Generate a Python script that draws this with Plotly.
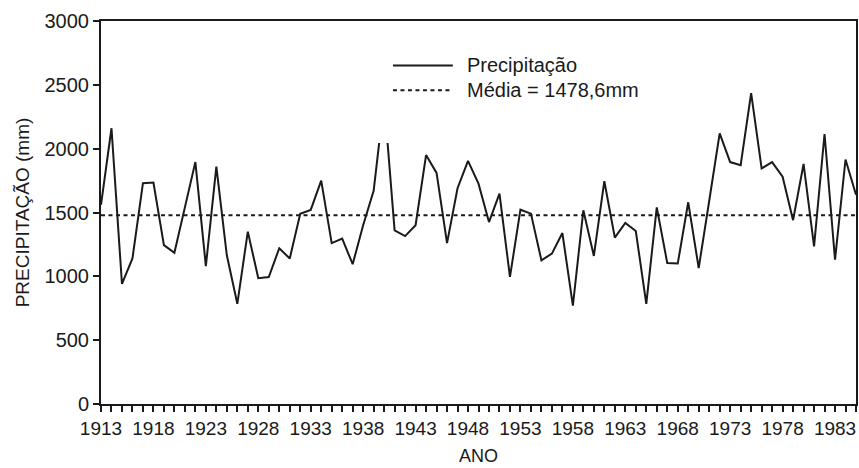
import plotly.graph_objects as go

years = list(range(1913, 1986))
precip_mm = [
    1560, 2160, 940, 1140, 1730, 1735, 1245, 1185, 1540, 1895,
    1080, 1860, 1165, 785, 1350, 985, 995, 1220, 1140, 1490,
    1520, 1750, 1260, 1295, 1095, 1400, 1670, 2380, 1360, 1315,
    1400, 1950, 1810, 1260, 1690, 1905, 1726, 1425, 1648, 995,
    1522, 1491, 1125, 1178, 1339, 770, 1517, 1160, 1745, 1303,
    1418, 1355, 785, 1540, 1105, 1100, 1580, 1065, 1590, 2120,
    1895, 1870, 2435, 1845, 1895, 1780, 1440, 1880, 1235, 2115,
    1130, 1915, 1640,
]
mean_mm = 1478.6
mean_label = "Média = 1478,6mm"
series_label = "Precipitação"

x_tick_years = [1913, 1918, 1923, 1928, 1933, 1938, 1943, 1948, 1953, 1958, 1963, 1968, 1973, 1978, 1983]
x_tick_labels = ["1913", "1918", "1923", "1928", "1933", "1938", "1943", "1948",
                 "1953", "1958", "1963", "1968", "1973", "1978", "1983"]
y_tick_vals = [0, 500, 1000, 1500, 2000, 2500, 3000]
y_tick_labels = ["0", "500", "1000", "1500", "2000", "2500", "3000"]

INK = "#1a1a1a"
FONT = "Arial, Liberation Sans, sans-serif"
DASH = "4px,3.5px"

fig = go.Figure()
fig.add_trace(go.Scatter(
    x=[years[0], years[-1]], y=[mean_mm, mean_mm], mode="lines",
    line=dict(color=INK, width=2, dash=DASH), name=mean_label, showlegend=False,
    hoverinfo="skip",
))
fig.add_trace(go.Scatter(
    x=years, y=precip_mm, mode="lines",
    line=dict(color=INK, width=2), name=series_label, showlegend=False,
))

# white legend background that hides the top of the 1940 peak (as in the original)
fig.add_shape(type="rect", xref="x", yref="y", x0=1939.35, x1=1940.65, y0=2045, y1=2975,
              fillcolor="white", line=dict(width=0), layer="above")

# custom legend (long line samples)
leg = [(series_label, "solid", 0.884), (mean_label, DASH, 0.819)]
for label, dash, yp in leg:
    fig.add_shape(type="line", xref="paper", yref="paper", x0=0.3867, x1=0.466, y0=yp, y1=yp,
                  line=dict(color=INK, width=2, dash=dash), layer="above")
    fig.add_annotation(xref="paper", yref="paper", x=0.4821, y=yp, text=label, showarrow=False,
                       xanchor="left", yanchor="middle", font=dict(family=FONT, size=20, color=INK))

fig.update_xaxes(
    range=[1913, 1985], tickmode="array", tickvals=x_tick_years, ticktext=x_tick_labels,
    ticks="outside", ticklen=6, tickwidth=1.5, tickcolor=INK,
    minor=dict(dtick=1, tick0=1913, ticks="outside", ticklen=6, tickwidth=1.5, tickcolor=INK),
    showline=True, linewidth=2, linecolor=INK, mirror=True, showgrid=False, zeroline=False,
    tickfont=dict(family=FONT, size=19, color=INK), automargin=False,
    title=dict(text="ANO", font=dict(family=FONT, size=18, color=INK), standoff=12),
)
fig.update_yaxes(
    range=[0, 3000], tickmode="array", tickvals=y_tick_vals, ticktext=y_tick_labels,
    ticks="outside", ticklen=6, tickwidth=1.5, tickcolor=INK,
    showline=True, linewidth=2, linecolor=INK, mirror=True, showgrid=False, zeroline=False,
    tickfont=dict(family=FONT, size=20, color=INK), automargin=False,
    title=dict(text="PRECIPITAÇÃO (mm)", font=dict(family=FONT, size=19, color=INK), standoff=10),
)
fig.update_layout(
    width=859, height=468, margin=dict(l=101, r=3, t=21, b=64),
    paper_bgcolor="white", plot_bgcolor="white", showlegend=False,
)
fig.write_html("out.html", config={"displayModeBar": False},
               post_script="document.body.style.margin='0';")
